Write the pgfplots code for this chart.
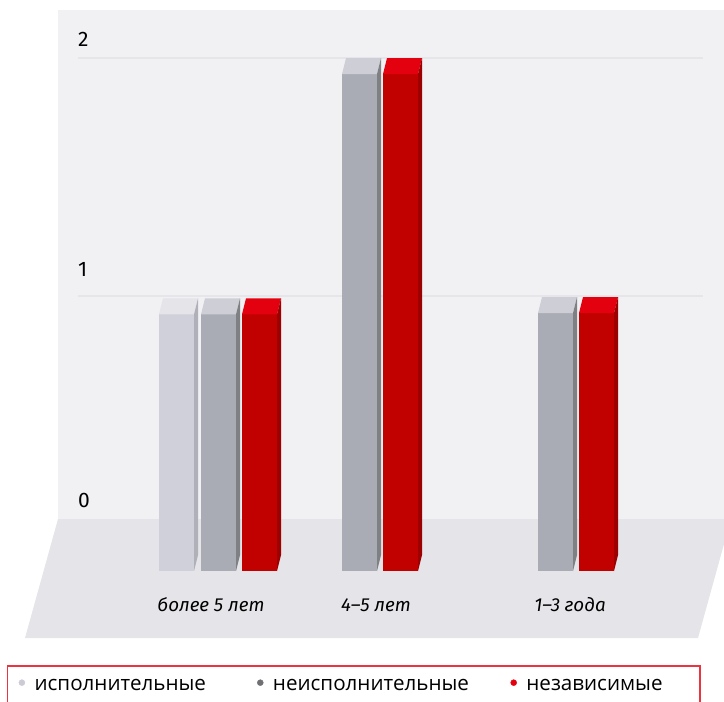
\documentclass[border=0pt]{standalone}
\usepackage{fontspec}
\setmainfont{Fira Sans}
\newfontfamily\legfont{Open Sans}
\usepackage{pgfplots}
\pgfplotsset{compat=1.18}
\definecolor{wallc}{HTML}{F1F1F4}
\definecolor{floorc}{HTML}{E4E4E9}
\definecolor{gridc}{HTML}{E6E6EA}
\definecolor{lf}{HTML}{CFD0D9}\definecolor{lt}{HTML}{E4E4E9}\definecolor{ls}{HTML}{B0B1B8}
\definecolor{gf}{HTML}{A9ACB4}\definecolor{gt}{HTML}{CDCED6}\definecolor{gs}{HTML}{7F8083}
\definecolor{rf}{HTML}{C10000}\definecolor{rt}{HTML}{E3000F}\definecolor{rs}{HTML}{9C0000}
\definecolor{legb}{HTML}{ED3340}
\definecolor{legl}{HTML}{CACBD4}\definecolor{legd}{HTML}{6F7074}\definecolor{legr}{HTML}{E3000F}
\newcommand{\legstrut}{\rule[-12pt]{0pt}{27pt}}
% one box: left px of the front face, three face colours
\newcommand{\boxbar}[5]{%
  \pgfmathsetmacro\xa{#1}\pgfmathsetmacro\xb{#1+35}\pgfmathsetmacro\xc{#1+4}\pgfmathsetmacro\xd{#1+39}%
  \pgfmathsetmacro\ft{#2-0.0672}%
  \edef\temp{%
    \noexpand\addplot[fill=#3,draw=none,forget plot] coordinates {(\xa,-0.1555) (\xb,-0.1555) (\xb,\ft) (\xa,\ft)} -- cycle;
    \noexpand\addplot[fill=#4,draw=none,forget plot] coordinates {(\xa,\ft) (\xb,\ft) (\xd,#2) (\xc,#2)} -- cycle;
    \noexpand\addplot[fill=#5,draw=none,forget plot] coordinates {(\xb,-0.1555) (\xd,-0.0882) (\xd,#2) (\xb,\ft)} -- cycle;
  }\temp}
\begin{document}
\begin{tikzpicture}[x=1pt,y=1pt]
\path[use as bounding box] (0,0) rectangle (724,-702);
\fill[wallc] (58,-10) rectangle (724,-519);
\fill[floorc] (58,-519) -- (724,-519) -- (724,-544) -- (698,-638) -- (25,-638) -- cycle;
\begin{axis}[
  at={(78pt,-590pt)},anchor=south west,
  scale only axis,width=625pt,height=580pt,
  xmin=78,xmax=703,
  ymin=-0.2353,ymax=2.2017,
  clip=false,
  axis line style={draw=none},
  major tick length=0pt,
  ytick={0,1,2},
  extra y ticks={1,2},
  extra y tick labels={},
  extra y tick style={ymajorgrids=true,grid style={gridc,line width=2.5pt}},
  yticklabel={\smash{\raisebox{\dimexpr 27pt-7.5pt*\ticknum\relax}{\ticknum}}},
  yticklabel style={anchor=base west,inner sep=0pt,xshift=0pt,font=\fontsize{21}{21}\selectfont},
  xtick={211,376,570},
  xticklabels={более 5 лет,4--5 лет,1--3 года},
  xticklabel style={font=\fontsize{18.8}{18.8}\selectfont\itshape,anchor=center,yshift=-15pt},
  legend columns=3,
  legend image code/.code={\fill[#1] (0pt,0.8pt) circle (3pt);\path (12.5pt,0pt);},
  legend style={at={(-0.1136,-0.1293)},anchor=north west,draw=none,
    fill=none,inner xsep=11.5pt,inner ysep=10pt,
    font=\legfont\fontsize{20.6}{20.6}\selectfont,
    nodes={inner xsep=0pt,inner ysep=0pt}},
]
% более 5 лет
\boxbar{159}{0.99}{lf}{lt}{ls}
\boxbar{201}{0.99}{gf}{gt}{gs}
\boxbar{242}{0.99}{rf}{rt}{rs}
% 4-5 лет
\boxbar{342}{2}{gf}{gt}{gs}
\boxbar{383}{2}{rf}{rt}{rs}
% 1-3 года
\boxbar{538}{0.995}{gf}{gt}{gs}
\boxbar{579}{0.995}{rf}{rt}{rs}
\addlegendimage{legl}\addlegendentry{\legstrut\makebox[222.5pt][l]{исполнительные}}
\addlegendimage{legd}\addlegendentry{\legstrut\makebox[237.5pt][l]{неисполнительные}}
\addlegendimage{legr}\addlegendentry{\legstrut\makebox[150pt][l]{независимые}}
\end{axis}
\draw[color=legb,line width=1.8pt] (7.5,-712) -- (7.5,-666) -- (700,-666) -- (700,-712);
\end{tikzpicture}
\end{document}
